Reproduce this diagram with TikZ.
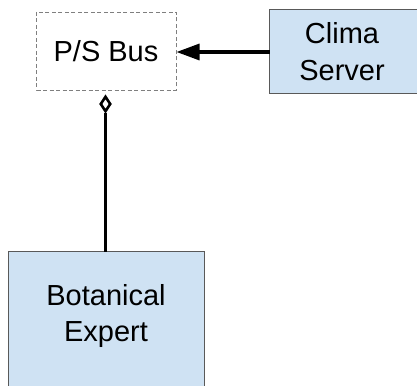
\documentclass[tikz,border=0pt]{standalone}
\usepackage{fontspec}
\setmainfont{Liberation Sans}
\usetikzlibrary{arrows.meta,shapes.geometric}
\definecolor{boxblue}{HTML}{CFE2F3}
\definecolor{boxline}{HTML}{595959}
\definecolor{dashline}{HTML}{7F7F7F}
\begin{document}
\begin{tikzpicture}[x=1pt,y=-1pt,
  bluebox/.style={draw=boxline, line width=1pt, fill=boxblue},
  busbox/.style={draw=dashline, line width=0.9pt, dash pattern=on 4pt off 2.5pt},
  lbl/.style={font=\fontsize{29pt}{36.5pt}\selectfont, align=center, inner sep=0pt},
  conn/.style={line width=3.2pt},
  agg/.style={diamond, draw=black, fill=white, line width=2.6pt, inner sep=0pt, minimum width=10.5pt, minimum height=15.5pt}]
\useasboundingbox (0,0) rectangle (417,385);
% boxes
\draw[busbox] (36.5,12) rectangle (176,90);
\draw[bluebox] (269.5,9.5) rectangle (420,94);
\draw[bluebox] (8.5,251.5) rectangle (204,390);
% labels
\node[lbl] (bus) at (106,51) {P/S Bus};
\node[lbl] (clima) at (342,51.5) {Clima\\Server};
\node[lbl] (bot) at (106,316) {Botanical\\Expert};
% anchors
\coordinate (busE) at (176.5,52);
\coordinate (climaW) at (269.5,52);
\coordinate (botN) at (105.5,251.5);
\node[agg] (dia) at (105.5,104) {};
% connectors
\draw[conn, -{Triangle[length=23pt,width=16pt]}] (climaW) -- (busE);
\draw[conn] (botN) -- (dia.south);
\end{tikzpicture}
\end{document}
